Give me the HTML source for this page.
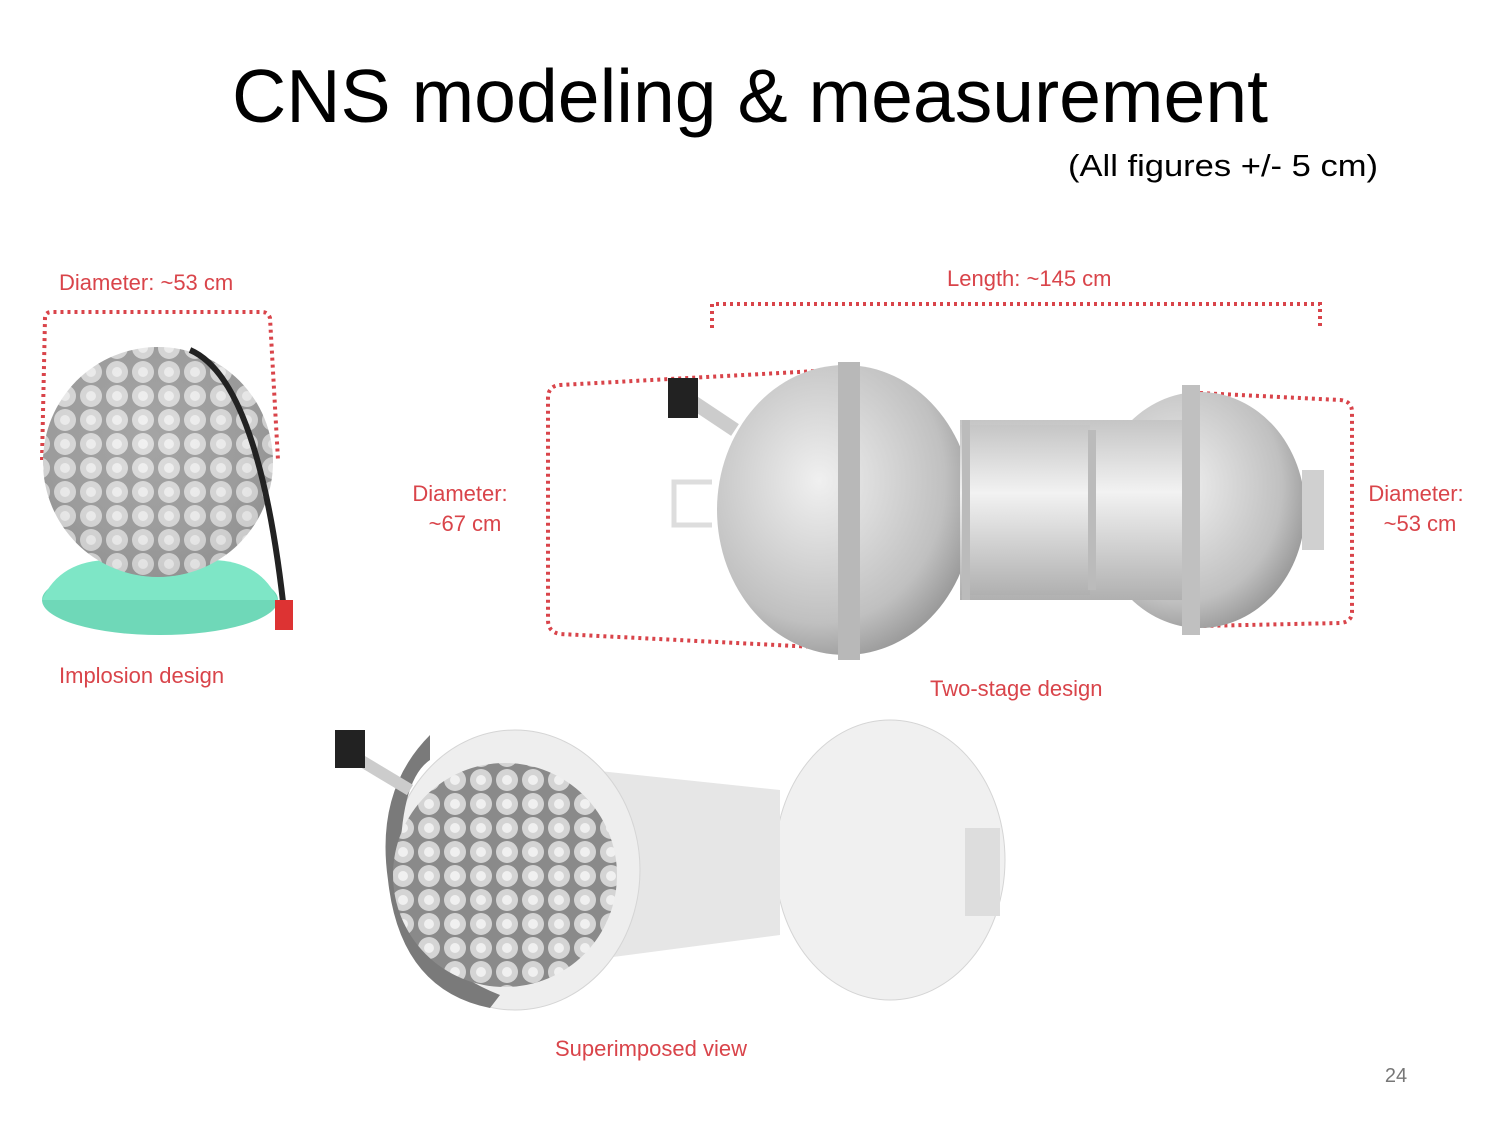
<!DOCTYPE html>
<html><head><meta charset="utf-8"><style>
body{margin:0;background:#fff;}
svg{display:block;}
</style></head><body>
<svg width="1500" height="1125" viewBox="0 0 1500 1125" xmlns="http://www.w3.org/2000/svg">
<defs>
<radialGradient id="g1" cx="0.45" cy="0.4" r="0.7"><stop offset="0" stop-color="#f4f4f4"/><stop offset="0.6" stop-color="#d2d2d2"/><stop offset="1" stop-color="#9a9a9a"/></radialGradient>
<radialGradient id="g2" cx="0.4" cy="0.4" r="0.7"><stop offset="0" stop-color="#f0f0f0"/><stop offset="0.7" stop-color="#c0c0c0"/><stop offset="1" stop-color="#8a8a8a"/></radialGradient>
<linearGradient id="cyl" x1="0" y1="0" x2="0" y2="1"><stop offset="0" stop-color="#c5c5c5"/><stop offset="0.4" stop-color="#f2f2f2"/><stop offset="1" stop-color="#b0b0b0"/></linearGradient>
<pattern id="hex" width="26" height="24" patternUnits="userSpaceOnUse"><rect width="26" height="24" fill="#8a8a8a"/><circle cx="13" cy="12" r="11" fill="#d4d4d4"/><circle cx="13" cy="12" r="5" fill="#f0f0f0"/></pattern>
</defs>
<g font-family="Liberation Sans, sans-serif">
<text x="750" y="122" font-size="75" text-anchor="middle" fill="#000" textLength="1036" lengthAdjust="spacingAndGlyphs">CNS modeling &amp; measurement</text>
<text x="1378" y="176" font-size="31" text-anchor="end" fill="#000" textLength="310" lengthAdjust="spacingAndGlyphs">(All figures +/- 5 cm)</text>
<g font-size="22" fill="#d9444a">
<text x="59" y="290">Diameter: ~53 cm</text>
<text x="59" y="683">Implosion design</text>
<text x="947" y="286">Length: ~145 cm</text>
<text x="460" y="501" text-anchor="middle">Diameter:</text>
<text x="465" y="531" text-anchor="middle">~67 cm</text>
<text x="1416" y="501" text-anchor="middle">Diameter:</text>
<text x="1420" y="531" text-anchor="middle">~53 cm</text>
<text x="930" y="696">Two-stage design</text>
<text x="555" y="1056">Superimposed view</text>
</g>
<text x="1396" y="1082" font-size="20" fill="#777" text-anchor="middle">24</text>
</g>
<g fill="none" stroke="#d9444a" stroke-width="4" stroke-dasharray="3 4">
<path d="M42 460 L45 318 Q45 312 52 312 L262 312 Q268 312 270 318 L278 460"/>
<path d="M712 328 L712 304 L1320 304 L1320 328"/>
<path d="M835 370 L560 385 Q548 386 548 398 L548 620 Q548 632 560 634 L835 648"/>
<path d="M1200 393 L1340 400 Q1352 401 1352 412 L1352 612 Q1352 622 1340 623 L1200 626"/>
</g>
<ellipse cx="160" cy="600" rx="118" ry="35" fill="#6fd8b8"/>
<path d="M42 600 Q60 560 110 560 L210 560 Q260 560 278 600 Z" fill="#7ee6c6"/>
<circle cx="158" cy="462" r="115" fill="url(#hex)"/>
<circle cx="158" cy="462" r="115" fill="url(#g1)" opacity="0.25"/>
<path d="M190 350 Q260 380 285 620" stroke="#222" stroke-width="6" fill="none"/>
<rect x="275" y="600" width="18" height="30" fill="#d33"/>
<ellipse cx="1200" cy="510" rx="105" ry="118" fill="url(#g2)"/>
<rect x="960" y="420" width="240" height="180" fill="url(#cyl)"/>
<path d="M690 400 L735 430" stroke="#ccc" stroke-width="14"/>
<ellipse cx="845" cy="510" rx="128" ry="145" fill="url(#g2)"/>
<rect x="960" y="425" width="130" height="170" fill="url(#cyl)"/>
<rect x="962" y="420" width="8" height="180" fill="#bbb"/>
<rect x="1088" y="430" width="8" height="160" fill="#bbb"/>
<rect x="838" y="362" width="22" height="298" fill="#b8b8b8"/>
<rect x="1182" y="385" width="18" height="250" fill="#c0c0c0"/>
<rect x="1302" y="470" width="22" height="80" fill="#d0d0d0"/>
<rect x="668" y="378" width="30" height="40" fill="#222"/>
<path d="M712 525 L674 525 L674 482 L712 482" stroke="#ddd" stroke-width="5" fill="none"/>
<ellipse cx="890" cy="860" rx="115" ry="140" fill="#f0f0f0" stroke="#d5d5d5"/>
<path d="M590 770 L780 790 L780 935 L590 960 Z" fill="#e6e6e6"/>
<ellipse cx="515" cy="870" rx="125" ry="140" fill="#eeeeee" stroke="#d5d5d5"/>
<path d="M430 735 Q375 790 388 880 Q400 990 490 1008 L500 995 Q410 960 400 870 Q400 780 430 760 Z" fill="#7a7a7a"/>
<circle cx="505" cy="875" r="112" fill="url(#hex)"/>
<path d="M360 760 L410 790" stroke="#ccc" stroke-width="12"/>
<rect x="335" y="730" width="30" height="38" fill="#222"/>
<rect x="965" y="828" width="35" height="88" fill="#ddd"/>
</svg>
</body></html>
